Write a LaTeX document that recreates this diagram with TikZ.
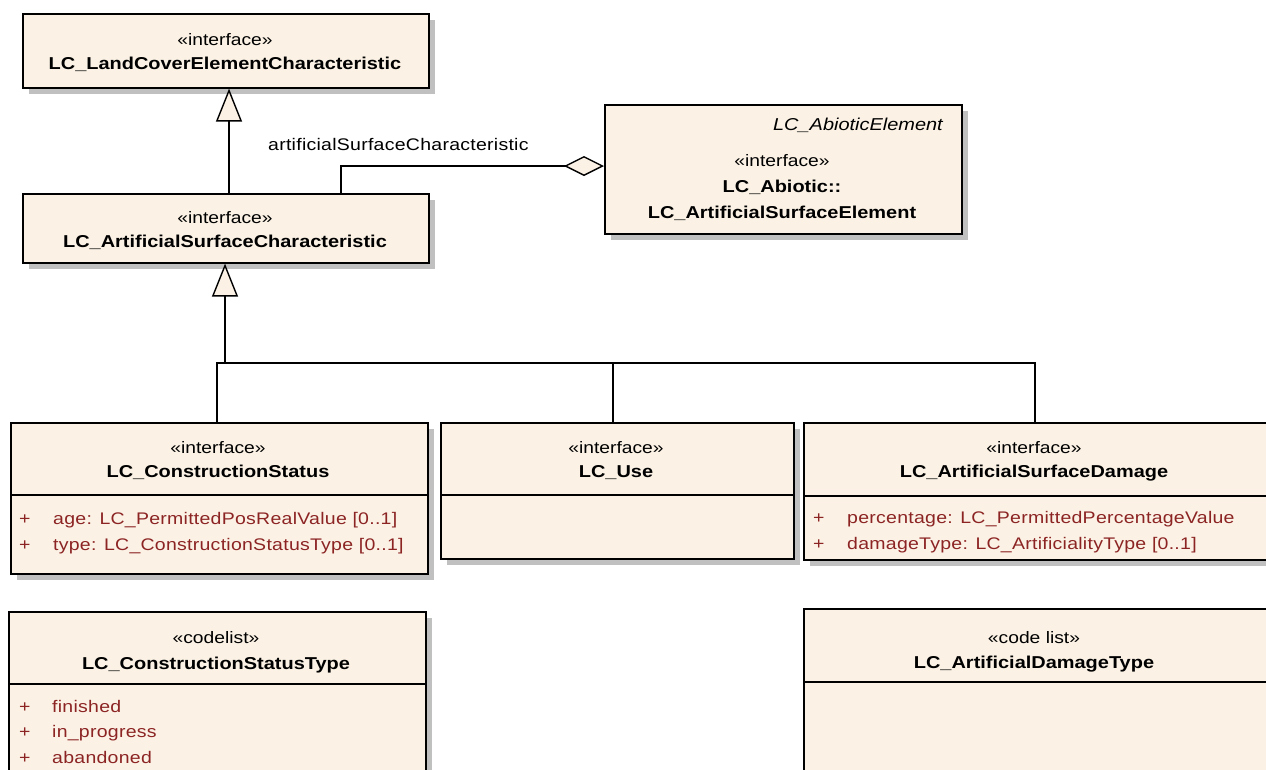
\documentclass[tikz,border=0pt]{standalone}
\usepackage{fontspec}
\setmainfont{Liberation Sans}[FakeStretch=1.16]
\newfontfamily\spacedfont{Liberation Sans}[FakeStretch=1.16, LetterSpace=1.6]
\usetikzlibrary{arrows.meta,shadows}
\definecolor{cream}{RGB}{251,242,229}
\definecolor{attr}{RGB}{140,36,36}
\definecolor{shade}{RGB}{192,192,192}
\tikzset{
  umlbox/.style={draw=black, line width=1.6pt, fill=cream, inner sep=0pt, anchor=north west,
    drop shadow={shadow xshift=6pt, shadow yshift=-6pt, fill=shade, opacity=1}},
  stereo/.style={anchor=base, inner sep=0pt, font=\fontsize{16.6}{20}\selectfont},
  cname/.style={anchor=base, inner sep=0pt, font=\fontsize{17.2}{20}\selectfont\bfseries},
  iname/.style={anchor=base east, inner sep=0pt, font=\fontsize{17.2}{20}\selectfont\itshape},
  attrtxt/.style={anchor=base west, inner sep=0pt, text=attr, font=\spacedfont\fontsize{16.8}{20}\selectfont},
  divider/.style={line width=1.4pt},
  conn/.style={line width=1.4pt},
  gen/.style={conn, -{Triangle[length=33pt, width=26pt, fill=cream, line width=1.4pt]}},
  agg/.style={conn, -{Diamond[length=40pt, width=20pt, fill=cream, line width=1.4pt]}},
  lbl/.style={anchor=base west, inner sep=0pt, font=\spacedfont\fontsize{16.8}{20}\selectfont}
}
\begin{document}
\begin{tikzpicture}[x=1pt, y=-1pt]
\clip (0,0) rectangle (1266,769);
\fill[white] (0,0) rectangle (1266,769);

% boxes
\node[umlbox, minimum width=406pt, minimum height=74pt] (b1) at (22,13) {};
\node[umlbox, minimum width=406pt, minimum height=69pt] (b2) at (22,193) {};
\node[umlbox, minimum width=357pt, minimum height=129pt] (b3) at (604,104) {};
\node[umlbox, minimum width=417pt, minimum height=151pt] (b4) at (10,422) {};
\node[umlbox, minimum width=353pt, minimum height=136pt] (b5) at (440,422) {};
\node[umlbox, minimum width=470pt, minimum height=137pt] (b6) at (803,422) {};
\node[umlbox, minimum width=417pt, minimum height=200pt] (b7) at (8,611) {};
\node[umlbox, minimum width=470pt, minimum height=200pt] (b8) at (803,608) {};

% dividers
\draw[divider] (b4.west |- 0,495) -- (b4.east |- 0,495);
\draw[divider] (b5.west |- 0,495) -- (b5.east |- 0,495);
\draw[divider] (b6.west |- 0,496) -- (b6.east |- 0,496);
\draw[divider] (b7.west |- 0,684) -- (b7.east |- 0,684);
\draw[divider] (b8.west |- 0,682) -- (b8.east |- 0,682);

% texts
\node[stereo] (t1s) at (225,45) {«interface»};
\node[cname] (t1n) at (225,69) {LC\_LandCoverElementCharacteristic};
\node[stereo] (t2s) at (225,223) {«interface»};
\node[cname] (t2n) at (225,247) {LC\_ArtificialSurfaceCharacteristic};

\node[iname] (t3i) at (943,130) {LC\_AbioticElement};
\node[stereo] (t3s) at (782,166) {«interface»};
\node[cname] (t3n) at (782,192) {LC\_Abiotic::};
\node[cname] (t3m) at (782,218) {LC\_ArtificialSurfaceElement};

\node[stereo] (t4s) at (218,453) {«interface»};
\node[cname] (t4n) at (218,477) {LC\_ConstructionStatus};
\node[attrtxt] (t4p1) at (19,524) {+};
\node[attrtxt] (t4a1) at (53,524) {age: LC\_PermittedPosRealValue [0..1]};
\node[attrtxt] (t4p2) at (19,550) {+};
\node[attrtxt] (t4a2) at (53,550) {type: LC\_ConstructionStatusType [0..1]};

\node[stereo] (t5s) at (616,453) {«interface»};
\node[cname] (t5n) at (616,477) {LC\_Use};

\node[stereo] (t6s) at (1034,453) {«interface»};
\node[cname] (t6n) at (1034,477) {LC\_ArtificialSurfaceDamage};
\node[attrtxt] (t6p1) at (813,523) {+};
\node[attrtxt] (t6a1) at (847,523) {percentage: LC\_PermittedPercentageValue};
\node[attrtxt] (t6p2) at (813,549) {+};
\node[attrtxt] (t6a2) at (847,549) {damageType: LC\_ArtificialityType [0..1]};

\node[stereo] (t7s) at (216,643) {«codelist»};
\node[cname] (t7n) at (216,669) {LC\_ConstructionStatusType};
\node[attrtxt] (t7p1) at (19,712) {+};
\node[attrtxt] (t7a1) at (52,712) {finished};
\node[attrtxt] (t7p2) at (19,737) {+};
\node[attrtxt] (t7a2) at (52,737) {in\_progress};
\node[attrtxt] (t7p3) at (19,763) {+};
\node[attrtxt] (t7a3) at (52,763) {abandoned};

\node[stereo] (t8s) at (1034,643) {«code list»};
\node[cname] (t8n) at (1034,668) {LC\_ArtificialDamageType};

% connectors
\draw[gen] (b2.north -| 229,0) -- (b1.south -| 229,0);
\coordinate (j) at (225,363);
\draw[gen] (j) -- (b2.south -| 225,0);
\draw[conn] (b4.north -| 217,0) |- (j);
\draw[conn] (b5.north -| 613,0) |- (j);
\draw[conn] (b6.north -| 1035,0) |- (j);
\coordinate (a1) at (341,166);
\draw[agg] (b2.north -| 341,0) -- (a1) -- (b3.west |- a1);
\node[lbl] (albl) at (268,150) {artificialSurfaceCharacteristic};
\end{tikzpicture}
\end{document}
